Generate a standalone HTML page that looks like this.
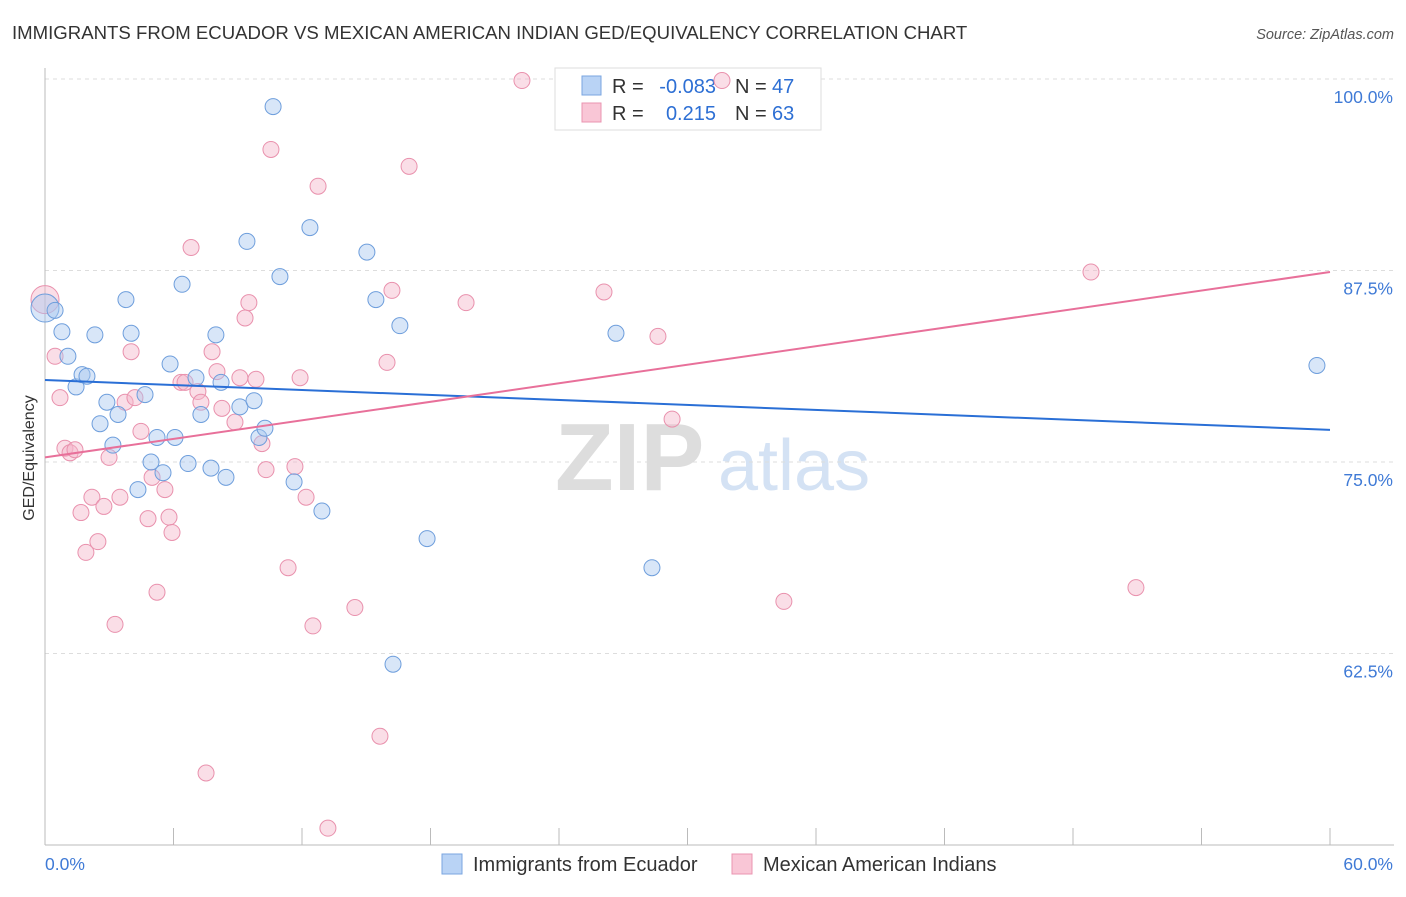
<!DOCTYPE html>
<html><head><meta charset="utf-8"><style>
body{margin:0;background:#fff;font-family:"Liberation Sans",sans-serif;}
svg text{font-family:"Liberation Sans",sans-serif;}
</style></head><body>
<svg id="chart" width="1406" height="892" xmlns="http://www.w3.org/2000/svg">
<text x="12" y="39" font-size="18.6" fill="#333">IMMIGRANTS FROM ECUADOR VS MEXICAN AMERICAN INDIAN GED/EQUIVALENCY CORRELATION CHART</text>
<text x="1394" y="39" font-size="14.5" fill="#555" font-style="italic" text-anchor="end">Source: ZipAtlas.com</text>
<g>
<text x="555" y="490" font-size="96" fill="#ddd" font-family="Liberation Serif" font-weight="bold">ZIP</text>
<text x="718" y="490" font-size="72" fill="#d4e2f4">atlas</text>
</g>
<g id="grid"></g>
<g id="axes"></g>
<g>
<rect x="555" y="68" width="266" height="62" fill="#fff" stroke="#ddd"/>
<rect x="582" y="76" width="19" height="19" fill="#b9d3f5" stroke="#7aa6e0"/>
<rect x="582" y="103" width="19" height="19" fill="#f9c6d6" stroke="#ea94b0"/>
<text x="612" y="93" font-size="20" fill="#333">R =</text>
<text x="716" y="93" font-size="20" fill="#2d6fd4" text-anchor="end">-0.083</text>
<text x="735" y="93" font-size="20" fill="#333">N =</text>
<text x="772" y="93" font-size="20" fill="#2d6fd4">47</text>
<text x="612" y="120" font-size="20" fill="#333">R =</text>
<text x="716" y="120" font-size="20" fill="#2d6fd4" text-anchor="end">0.215</text>
<text x="735" y="120" font-size="20" fill="#333">N =</text>
<text x="772" y="120" font-size="20" fill="#2d6fd4">63</text>
</g>
<g id="points"></g>
<g id="lines"></g>
<text transform="translate(34,458) rotate(-90)" font-size="16" fill="#333" text-anchor="middle">GED/Equivalency</text>
<g>
<rect x="442" y="854" width="20" height="20" fill="#b9d3f5" stroke="#7aa6e0"/>
<text x="473" y="871" font-size="20" fill="#333">Immigrants from Ecuador</text>
<rect x="732" y="854" width="20" height="20" fill="#f9c6d6" stroke="#ea94b0"/>
<text x="763" y="871" font-size="20" fill="#333">Mexican American Indians</text>
</g>
</svg>
<script>
const blueX=[0,0.47,0.79,1.07,1.45,1.73,1.96,2.33,2.57,2.89,3.17,3.41,3.78,4.02,4.34,4.67,4.95,5.23,5.51,5.84,6.07,6.4,6.68,7.05,7.28,7.75,7.98,8.22,8.45,9.1,9.43,9.76,9.99,10.27,10.65,10.97,11.63,12.37,12.93,15.03,15.45,16.25,16.57,17.84,26.66,28.34,59.39];
const blueY=[85.05,84.9,83.5,81.9,79.9,80.7,80.6,83.3,77.5,78.9,76.1,78.1,85.6,83.4,73.2,79.4,75.0,76.6,74.3,81.4,76.6,86.6,74.9,80.5,78.1,74.6,83.3,80.2,74.0,78.6,89.4,79.0,76.6,77.2,98.2,87.1,73.7,90.3,71.8,88.7,85.6,61.8,83.9,70.0,83.4,68.1,81.3];
const pinkX=[0,0.47,0.7,0.93,1.17,1.4,1.68,1.91,2.19,2.47,2.75,2.99,3.27,3.5,3.74,4.02,4.2,4.48,4.81,5.0,5.23,5.6,5.79,5.93,6.35,6.54,6.82,7.14,7.28,7.52,7.8,8.03,8.26,8.87,9.1,9.34,9.52,9.85,10.13,10.32,10.55,11.35,11.67,11.91,12.19,12.51,12.75,13.21,14.47,15.64,15.97,16.2,17.0,19.66,22.27,26.1,28.62,29.28,31.61,34.5,48.84,50.94];
const pinkY=[85.6,81.9,79.2,75.9,75.6,75.8,71.7,69.1,72.7,69.8,72.1,75.3,64.4,72.7,78.9,82.2,79.2,77.0,71.3,74.0,66.5,73.2,71.4,70.4,80.2,80.2,89.0,79.6,78.9,54.7,82.2,80.9,78.5,77.6,80.5,84.4,85.4,80.4,76.2,74.5,95.4,68.1,74.7,80.5,72.7,64.3,93.0,51.1,65.5,57.1,81.5,86.2,94.3,85.4,99.9,86.1,83.2,77.8,99.9,65.9,87.4,66.8];
const blueTrend=[80.35,77.1];
const pinkTrend=[75.3,87.4];
const yTicks=[100,87.5,75,62.5];
const yTickLabels=["100.0%","87.5%","75.0%","62.5%"];
const xTicks=[0,6,12,18,24,30,36,42,48,54,60];
const NS="http://www.w3.org/2000/svg";
const sx=v=>45+v/60*1285;
const sy=v=>79+(100-v)/12.5*191.5;
function mk(tag,attrs,parent){const e=document.createElementNS(NS,tag);for(const k in attrs)e.setAttribute(k,attrs[k]);document.getElementById(parent).appendChild(e);return e;}
yTicks.forEach((t,i)=>{
 const l=mk('line',{x1:45,x2:1394,y1:sy(t),y2:sy(t),stroke:'#ddd','stroke-dasharray':'4,4'},'grid');
 
 
 const tx=mk('text',{x:1393,y:sy(t)+24,'font-size':17.5,fill:'#3f7ad6','text-anchor':'end'},'grid');
 tx.textContent=yTickLabels[i];
 
 
});
const ax=mk('line',{x1:45,x2:45,y1:68,y2:845,stroke:'#bbb'},'axes');


const bx=mk('line',{x1:45,x2:1394,y1:845,y2:845,stroke:'#bbb'},'axes');


xTicks.forEach(t=>{
 const l=mk('line',{x1:sx(t),x2:sx(t),y1:828,y2:845,stroke:'#bbb'},'axes');
 
 
});
const x0=mk('text',{x:45,y:870,'font-size':17.5,fill:'#3f7ad6'},'axes');x0.textContent='0.0%';


const x1=mk('text',{x:1393,y:870,'font-size':17.5,fill:'#3f7ad6','text-anchor':'end'},'axes');x1.textContent='60.0%';


function pts(X,Y,fill,stroke,name){X.forEach((x,i)=>{
 const c=mk('circle',{cx:sx(x),cy:sy(Y[i]),r:(i===0?14:8),fill:fill,'fill-opacity':0.45,stroke:stroke,'stroke-width':1},'points');
 
 
});}
pts(pinkX,pinkY,'#f5b5ca','#e991ad','point-mexican-american-indians');
pts(blueX,blueY,'#a9c7f0','#6e9edc','point-immigrants-ecuador');
const bl=mk('line',{x1:sx(0),x2:sx(60),y1:sy(blueTrend[0]),y2:sy(blueTrend[1]),stroke:'#2a6fd6','stroke-width':2},'lines');


const pl=mk('line',{x1:sx(0),x2:sx(60),y1:sy(pinkTrend[0]),y2:sy(pinkTrend[1]),stroke:'#e8709a','stroke-width':2},'lines');


</script>
</body></html>
